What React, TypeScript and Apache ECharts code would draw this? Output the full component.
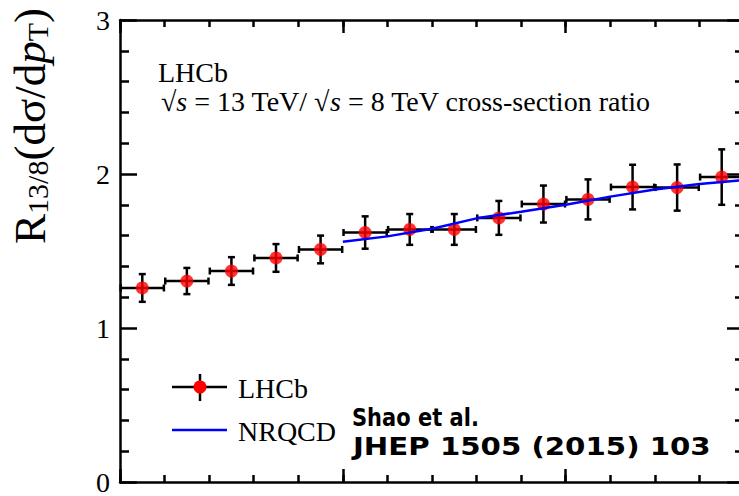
import React, { useEffect, useRef } from "react";
import * as echarts from "echarts";

// LHCb J/psi cross-section ratio 13 TeV / 8 TeV vs pT
const ptCenters = [0.5, 1.5, 2.5, 3.5, 4.5, 5.5, 6.5, 7.5, 8.5, 9.5, 10.5, 11.5, 12.5, 13.5];
const binHalfWidth = 0.5;
const ratio = [1.26, 1.305, 1.37, 1.455, 1.51, 1.62, 1.64, 1.64, 1.715, 1.805, 1.835, 1.915, 1.912, 1.98];
const ratioErr = [0.09, 0.085, 0.09, 0.09, 0.09, 0.105, 0.1, 0.1, 0.11, 0.12, 0.13, 0.145, 0.15, 0.18];

// NRQCD prediction (Shao et al.)
const nrqcdPt = [5, 6, 7, 8, 9, 10, 11, 12, 13, 14];
const nrqcdRatio = [1.56, 1.595, 1.645, 1.712, 1.755, 1.8, 1.853, 1.9, 1.935, 1.96];

// Axis ticks
const yTicks = [0, 1, 2, 3];
const yTickLabels = ["0", "1", "2", "3"];

const SERIF = "'Liberation Serif', 'Times New Roman', serif";

export default function App() {
  const ref = useRef<HTMLDivElement>(null);

  useEffect(() => {
    if (!ref.current) return;
    const chart = echarts.init(ref.current, null, { renderer: "svg" });

    const xBase = {
      type: "value",
      min: 0,
      max: 14,
      axisLabel: { show: false },
      splitLine: { show: false },
    };
    const axisLineStyle = { color: "#000", width: 2.5 };

    const option: any = {
      animation: false,
      backgroundColor: "#fff",
      grid: {
        left: 120,
        top: 20,
        width: 624,
        height: 462,
        containLabel: false,
        outerBoundsMode: "none",
      },
      xAxis: [
        {
          ...xBase,
          position: "bottom",
          interval: 5,
          axisLine: { show: true, onZero: false, lineStyle: axisLineStyle },
          axisTick: { show: true, inside: true, length: 13, lineStyle: { color: "#000", width: 2.5 } },
        },
        {
          ...xBase,
          position: "bottom",
          interval: 1,
          axisLine: { show: false, onZero: false },
          axisTick: { show: true, inside: true, length: 7, lineStyle: { color: "#000", width: 2.5 } },
        },
        {
          ...xBase,
          position: "top",
          interval: 5,
          axisLine: { show: true, onZero: false, lineStyle: axisLineStyle },
          axisTick: { show: true, inside: true, length: 13, lineStyle: { color: "#000", width: 2.5 } },
        },
        {
          ...xBase,
          position: "top",
          interval: 1,
          axisLine: { show: false, onZero: false },
          axisTick: { show: true, inside: true, length: 7, lineStyle: { color: "#000", width: 2.5 } },
        },
      ],
      yAxis: [
        {
          type: "value",
          position: "left",
          min: 0,
          max: 3,
          interval: 1,
          name: "R{sub|13/8}(dσ/d{it|p}{sub|T})",
          nameLocation: "middle",
          nameRotate: 90,
          nameGap: 68,
          nameTextStyle: {
            fontFamily: SERIF,
            fontSize: 45,
            color: "#000",
            padding: [0, 0, 0, 250],
            rich: {
              sub: { fontFamily: SERIF, fontSize: 30, color: "#000", verticalAlign: "bottom", lineHeight: 30, padding: [16, 0, 0, 0] },
              it: { fontFamily: SERIF, fontSize: 45, fontStyle: "italic", color: "#000" },
            },
          },
          axisLine: { show: true, onZero: false, lineStyle: axisLineStyle },
          axisTick: { show: true, inside: true, length: 17, lineStyle: { color: "#000", width: 2.5 } },
          minorTick: { show: true, splitNumber: 5, length: 9, lineStyle: { color: "#000", width: 2.5 } },
          splitLine: { show: false },
          axisLabel: {
            show: true,
            margin: 10,
            color: "#000",
            fontFamily: SERIF,
            fontSize: 28,
            padding: [8, 0, 0, 0],
            formatter: (v: number) => {
              const i = yTicks.indexOf(v);
              return i >= 0 ? yTickLabels[i] : "";
            },
          },
        },
        {
          type: "value",
          position: "right",
          min: 0,
          max: 3,
          interval: 1,
          axisLine: { show: true, onZero: false, lineStyle: axisLineStyle },
          axisTick: { show: true, inside: true, length: 17, lineStyle: { color: "#000", width: 2.5 } },
          minorTick: { show: true, splitNumber: 5, length: 9, lineStyle: { color: "#000", width: 2.5 } },
          splitLine: { show: false },
          axisLabel: { show: false },
        },
      ],
      series: [
        {
          type: "custom",
          name: "LHCb errors",
          xAxisIndex: 0,
          yAxisIndex: 0,
          data: ptCenters.map((x, i) => [x, ratio[i], ratioErr[i]]),
          renderItem: (params: any, api: any) => {
            const x = api.value(0);
            const y = api.value(1);
            const e = api.value(2);
            const l = api.coord([x - binHalfWidth * 0.97, y]);
            const r = api.coord([x + binHalfWidth * 0.97, y]);
            const t = api.coord([x, y + e]);
            const b = api.coord([x, y - e]);
            const style = { stroke: "#000", lineWidth: 2.5, fill: null };
            const cap = 3.5;
            return {
              type: "group",
              children: [
                { type: "line", shape: { x1: l[0], y1: l[1], x2: r[0], y2: r[1] }, style },
                { type: "line", shape: { x1: t[0], y1: t[1], x2: b[0], y2: b[1] }, style },
                { type: "line", shape: { x1: l[0], y1: l[1] - cap, x2: l[0], y2: l[1] + cap }, style },
                { type: "line", shape: { x1: r[0], y1: r[1] - cap, x2: r[0], y2: r[1] + cap }, style },
                { type: "line", shape: { x1: t[0] - cap, y1: t[1], x2: t[0] + cap, y2: t[1] }, style },
                { type: "line", shape: { x1: b[0] - cap, y1: b[1], x2: b[0] + cap, y2: b[1] }, style },
              ],
            };
          },
          z: 2,
        },
        {
          type: "scatter",
          name: "LHCb",
          xAxisIndex: 0,
          yAxisIndex: 0,
          data: ptCenters.map((x, i) => [x, ratio[i]]),
          symbol: "circle",
          symbolSize: 13,
          itemStyle: { color: "#ff0000" },
          z: 3,
        },
        {
          type: "line",
          name: "NRQCD",
          xAxisIndex: 0,
          yAxisIndex: 0,
          data: nrqcdPt.map((x, i) => [x, nrqcdRatio[i]]),
          showSymbol: false,
          symbol: "none",
          lineStyle: { color: "#0000ff", width: 2.5 },
          z: 4,
        },
      ],
      graphic: [
        {
          type: "text",
          x: 158,
          y: 72,
          style: { text: "LHCb", fontFamily: SERIF, fontSize: 28, fill: "#000", align: "left", verticalAlign: "middle" },
        },
        {
          type: "text",
          x: 161,
          y: 101,
          style: {
            text: "√{it|s} = 13 TeV/ √{it|s} = 8 TeV cross-section ratio",
            fontFamily: SERIF,
            fontSize: 28,
            fill: "#000",
            align: "left",
            verticalAlign: "middle",
            rich: { it: { fontFamily: SERIF, fontSize: 28, fontStyle: "italic", fill: "#000" } },
          },
        },
        // legend
        { type: "line", shape: { x1: 172, y1: 387, x2: 227, y2: 387 }, style: { stroke: "#000", lineWidth: 2.5 } },
        { type: "line", shape: { x1: 200, y1: 374, x2: 200, y2: 401 }, style: { stroke: "#000", lineWidth: 2.5 } },
        { type: "circle", shape: { cx: 200, cy: 387, r: 6.5 }, style: { fill: "#ff0000" } },
        {
          type: "text",
          x: 238,
          y: 388,
          style: { text: "LHCb", fontFamily: SERIF, fontSize: 28, fill: "#000", align: "left", verticalAlign: "middle" },
        },
        { type: "line", shape: { x1: 172, y1: 430, x2: 227, y2: 430 }, style: { stroke: "#0000ff", lineWidth: 2.5 } },
        {
          type: "text",
          x: 238,
          y: 431,
          style: { text: "NRQCD", fontFamily: SERIF, fontSize: 28, fill: "#000", align: "left", verticalAlign: "middle" },
        },
        // reference
        {
          type: "text",
          x: 352,
          y: 417,
          scaleX: 0.84,
          style: { text: "Shao et al.", fontFamily: "'DejaVu Sans', sans-serif", fontWeight: "bold", fontSize: 25, fill: "#000", align: "left", verticalAlign: "middle" },
        },
        {
          type: "text",
          x: 353,
          y: 446,
          scaleX: 1.17,
          style: { text: "JHEP 1505 (2015) 103", fontFamily: "'DejaVu Sans', sans-serif", fontWeight: "bold", fontSize: 25, fill: "#000", align: "left", verticalAlign: "middle" },
        },
      ],
    };

    chart.setOption(option);
    return () => chart.dispose();
  }, []);

  return (
    <div
      ref={ref}
      style={{ position: "absolute", left: 0, top: 0, width: 739, height: 496, background: "#fff" }}
    />
  );
}
